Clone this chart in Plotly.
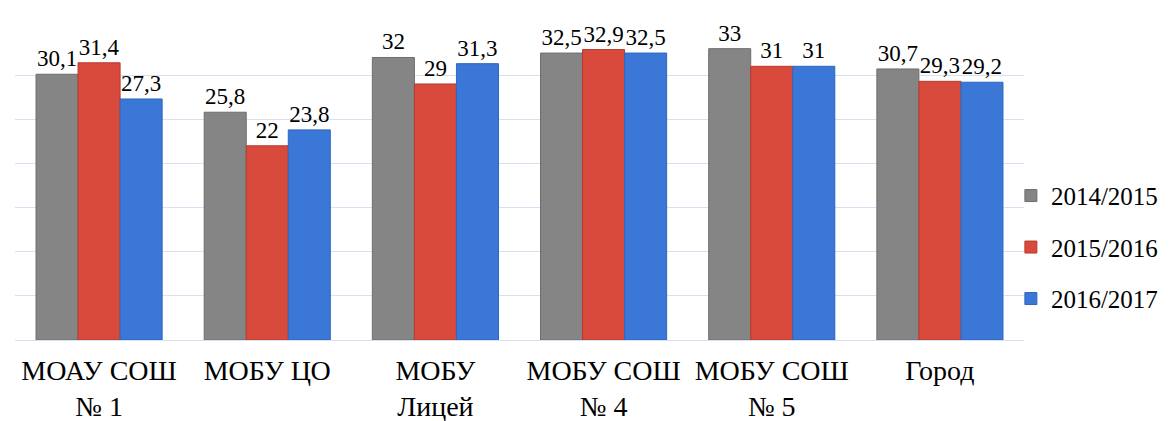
import plotly.graph_objects as go

categories = ['МОАУ СОШ<br>№ 1', 'МОБУ ЦО', 'МОБУ<br>Лицей', 'МОБУ СОШ<br>№ 4', 'МОБУ СОШ<br>№ 5', 'Город']
series_names = ['2014/2015', '2015/2016', '2016/2017']
values_2014 = [30.1, 25.8, 32, 32.5, 33, 30.7]
values_2015 = [31.4, 22, 29, 32.9, 31, 29.3]
values_2016 = [27.3, 23.8, 31.3, 32.5, 31, 29.2]

colors = ['#858585', '#d84a3b', '#3a77d6']
borders = ['#6e6e6e', '#b83a2e', '#2f66c0']

serif = 'Liberation Serif, Times New Roman, DejaVu Serif, serif'


def fmt(v):
	return f'{v:g}'.replace('.', ',')


fig = go.Figure()

for i, (name, vals) in enumerate(zip(series_names, [values_2014, values_2015, values_2016])):
	fig.add_trace(
		go.Bar(
			x=categories,
			y=vals,
			name=name,
			legendgroup=name,
			marker=dict(color=colors[i], line=dict(color=borders[i], width=1)),
			text=[fmt(v) for v in vals],
			textposition='outside',
			textfont=dict(family=serif, size=23, color='#000000'),
			constraintext='none',
			cliponaxis=False
		)
	)

# the page body has an 8px margin, so the plot area is shifted back by 8px
fig.update_layout(
	width=1169,
	height=421,
	barmode='group',
	bargap=0.25,
	bargroupgap=0,
	paper_bgcolor='white',
	plot_bgcolor='white',
	margin=dict(l=7, r=153, t=23, b=89, autoexpand=False),
	font=dict(family=serif, color='#000000'),
	showlegend=True,
	legend=dict(
		x=0.987,
		y=0.30,
		xanchor='left',
		yanchor='middle',
		font=dict(family=serif, size=25),
		tracegroupgap=16,
		itemwidth=30,
		bgcolor='rgba(0,0,0,0)'
	),
	xaxis=dict(
		tickfont=dict(family=serif, size=28),
		ticklabelstandoff=5,
		showline=True,
		linecolor='#d6e2f2',
		linewidth=1,
		ticks='',
		automargin=False
	),
	yaxis=dict(
		range=[0, 35],
		dtick=5,
		showticklabels=False,
		gridcolor='#d6e2f2',
		gridwidth=1,
		zeroline=False,
		automargin=False
	)
)

fig.write_html('out.html')
